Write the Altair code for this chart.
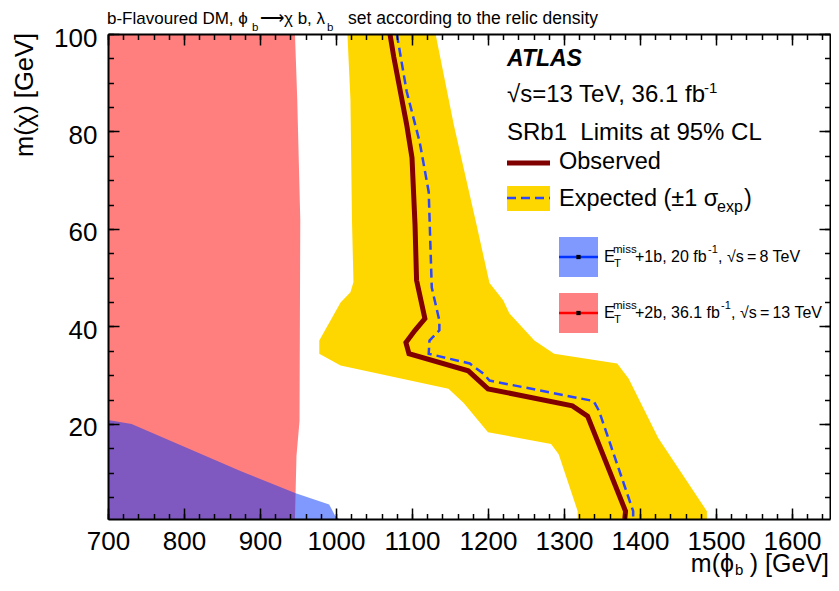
import altair as alt
import pandas as pd

# ---------------- data (GeV) ----------------
obs_mphi = [1071, 1076, 1093, 1100, 1104, 1106, 1117, 1104, 1092, 1096, 1174, 1200, 1311, 1331, 1381, 1380]
obs_mchi = [100, 95.3, 81.4, 74.6, 60.8, 49.5, 41.6, 39.2, 36.7, 34.4, 30.9, 27.2, 23.7, 21.6, 2.1, 0.5]

exp_mphi = [1080, 1093, 1110, 1122, 1126, 1136, 1136, 1123, 1122, 1176, 1194, 1202, 1339, 1346, 1391, 1391]
exp_mchi = [100, 88.2, 77.9, 67.6, 48.0, 41.2, 39.2, 37.1, 34.4, 32.4, 30.3, 28.9, 24.7, 22.7, 2.1, 0.5]

band_lo_mphi = [1015, 1019, 1021, 1023, 1019, 1006, 978, 978, 1006, 1148, 1168, 1200, 1283, 1293, 1318, 1318]
band_lo_mchi = [100, 86.6, 61.9, 49.1, 47.0, 44.9, 37.1, 34.4, 32.0, 27.2, 24.3, 18.3, 15.9, 13.8, 2.1, 0.5]

band_hi_mphi = [1131, 1155, 1185, 1202, 1220, 1228, 1261, 1287, 1370, 1385, 1424, 1488, 1488]
band_hi_mchi = [100, 81.4, 60.8, 48.9, 45.4, 42.7, 37.1, 34.4, 32.4, 29.3, 17.1, 2.1, 0.5]

excl13_mphi = [946, 949, 953, 952, 948, 946]
excl13_mchi = [100, 86.6, 61.9, 20.6, 13.4, 0.5]

excl8_mphi = [700, 731, 875, 897, 947, 991, 999, 1004]
excl8_mchi = [20.8, 20.0, 10.3, 8.9, 5.8, 3.5, 1.1, 0.5]

x_major = list(range(700, 1601, 100))
x_minor = list(range(700, 1651, 20))
y_major = [20, 40, 60, 80, 100]
y_minor = list(range(5, 101, 5))

XMIN, XMAX = 700, 1650
YMIN, YMAX = 0.5, 100
FONT = "Liberation Sans"

xs = alt.Scale(domain=[XMIN, XMAX], zero=False, nice=False)
ys = alt.Scale(domain=[YMIN, YMAX], zero=False, nice=False)


def ax(orient, values, size, labels=False, domain=False, pad=0, loff=0):
    kw = dict(orient=orient, values=values, tickSize=alt.ExprRef(expr=str(-size)),
              ticks=True, labels=labels, domain=domain, grid=False, title=None,
              zindex=1, tickColor="black", tickWidth=1.5,
              domainColor="black", domainWidth=2)
    if labels:
        kw.update(format="d", labelFont=FONT, labelFontSize=26, labelColor="black",
                  labelPadding=pad, labelFlush=False, labelOverlap=False, labelOffset=loff)
    return alt.Axis(**kw)


def region(mphi, mchi, color, opacity, xaxis, yaxis):
    df = pd.DataFrame({"mphi": mphi, "mchi": mchi})
    return alt.Chart(df).mark_area(orient="horizontal", color=color, opacity=opacity,
                                   clip=True).encode(
        y=alt.Y("mchi:Q", scale=ys, axis=yaxis),
        x=alt.X("mphi:Q", scale=xs, axis=xaxis, stack=None),
        x2=alt.X2Datum(XMIN),
    )


def curve(mphi, mchi, color, width, dash=None):
    df = pd.DataFrame({"mphi": mphi, "mchi": mchi, "i": list(range(len(mphi)))})
    kw = dict(color=color, strokeWidth=width, clip=True)
    if dash:
        kw["strokeDash"] = dash
    return alt.Chart(df).mark_line(**kw).encode(
        x=alt.X("mphi:Q", scale=xs, axis=None),
        y=alt.Y("mchi:Q", scale=ys, axis=None),
        order=alt.Order("i:Q"),
    )


ONE = pd.DataFrame({"k": [0]})


def txt(s, x, y, size, align="left", weight="normal", style="normal", angle=0):
    return alt.Chart(ONE).mark_text(text=s, align=align, baseline="alphabetic", font=FONT,
                                    fontSize=size, fontWeight=weight, fontStyle=style,
                                    angle=angle, color="black").encode(
        x=alt.value(x), y=alt.value(y))


def box(x1, x2, y1, y2, color):
    return alt.Chart(ONE).mark_rect(color=color).encode(
        x=alt.value(x1), x2=alt.value(x2), y=alt.value(y1), y2=alt.value(y2))


def hline(x1, x2, y, color, width, dash=None):
    kw = dict(color=color, strokeWidth=width)
    if dash:
        kw["strokeDash"] = dash
    return alt.Chart(ONE).mark_rule(**kw).encode(
        x=alt.value(x1), x2=alt.value(x2), y=alt.value(y))


def dot(x, y):
    return alt.Chart(ONE).mark_square(size=18, color="black", opacity=1).encode(
        x=alt.value(x), y=alt.value(y))


YELLOW = "#ffd700"
OBS = "#800000"
EXPC = "#2a46ff"
PHI = "\u03d5"
TS = "\u2009"
L = -4  # horizontal shift of the legend block
TY = -10.5  # baseline of the title line above the frame

layers = [
    region(band_hi_mphi, band_hi_mchi, YELLOW, 1,
           ax("bottom", x_major, 11, labels=True, domain=True, pad=20),
           ax("left", y_major, 11, labels=True, domain=True, pad=22, loff=4)),
    region(band_lo_mphi, band_lo_mchi, "white", 1,
           ax("bottom", x_minor, 5.5), ax("left", y_minor, 5.5)),
    region(excl13_mphi, excl13_mchi, "#ff0000", 0.5,
           ax("top", x_major, 11, domain=True), ax("right", y_major, 11, domain=True)),
    region(excl8_mphi, excl8_mchi, "#0033ff", 0.5,
           ax("top", x_minor, 5.5), ax("right", y_minor, 5.5)),
    curve(obs_mphi, obs_mchi, OBS, 5),
    curve(exp_mphi, exp_mchi, EXPC, 2.5, dash=[9, 5]),
    # legend (upper)
    txt("ATLAS", 403 + L, 32, 23, weight="bold", style="italic"),
    txt("\u221as=13 TeV, 36.1 fb", 403 + L, 68, 24),
    txt("-1", 600 + L, 59, 15),
    txt("SRb1\u00a0 Limits at 95% CL", 403 + L, 106, 24),
    hline(403 + L, 446 + L, 129, OBS, 5),
    txt("Observed", 455 + L, 135, 23.5),
    box(403 + L, 446 + L, 152, 177, YELLOW),
    hline(403 + L, 446 + L, 164, EXPC, 2.5, dash=[9, 5]),
    txt("Expected (\u00b11 \u03c3", 455 + L, 172, 23.5),
    txt("exp", 613 + L, 178, 16),
    txt(")", 640 + L, 172, 23.5),
    # legend (lower)
    box(455 + L, 494 + L, 203, 243, "#8099ff"),
    hline(455 + L, 494 + L, 223, "#0033ff", 2.5),
    dot(474.5 + L, 223),
    txt("E", 500 + L, 228, 16.5),
    txt("miss", 509 + L, 219, 11.5),
    txt("T", 510 + L, 233, 11.5),
    txt("+1b, 20 fb", 531 + L, 228, 16),
    txt("-1", 604 + L, 219, 11),
    txt(", \u221as" + TS + "=" + TS + "8 TeV", 614 + L, 228, 16),
    box(455 + L, 494 + L, 259, 299, "#ff8080"),
    hline(455 + L, 494 + L, 279, "#ff0000", 2.5),
    dot(474.5 + L, 279),
    txt("E", 500 + L, 284, 16.5),
    txt("miss", 509 + L, 275, 11.5),
    txt("T", 510 + L, 289, 11.5),
    txt("+2b, 36.1 fb", 531 + L, 284, 16),
    txt("-1", 617 + L, 275, 11),
    txt(", \u221as" + TS + "=" + TS + "13 TeV", 627 + L, 284, 16),
    # title above the frame
    txt("b-Flavoured DM, " + PHI, -1, TY, 17),
    txt("b", 144, TY + 7, 11.5),
    txt("\u27f6", 152, TY, 17),
    txt("\u03c7 b, \u03bb", 176, TY, 17),
    txt("b", 219, TY + 7, 11.5),
    txt("set according to the relic density", 240, TY, 17.5),
    # axis titles
    txt("m(" + PHI, 626, 538, 25, align="right"),
    txt("b", 627, 540.5, 15),
    txt(") [GeV]", 721, 538, 25, align="right"),
    txt("m(\u03c7) [GeV]", -75, -1, 25.5, align="right", angle=270),
]

chart = alt.layer(*layers).resolve_axis(
    x="independent", y="independent"
).properties(
    width=722, height=485,
    autosize=alt.AutoSizeParams(type="none"),
    padding={"left": 100, "top": 26, "right": 1, "bottom": 59},
    background="white",
).configure_view(stroke=None)

chart.save("out.html", embed_options={"renderer": "svg", "actions": False})
